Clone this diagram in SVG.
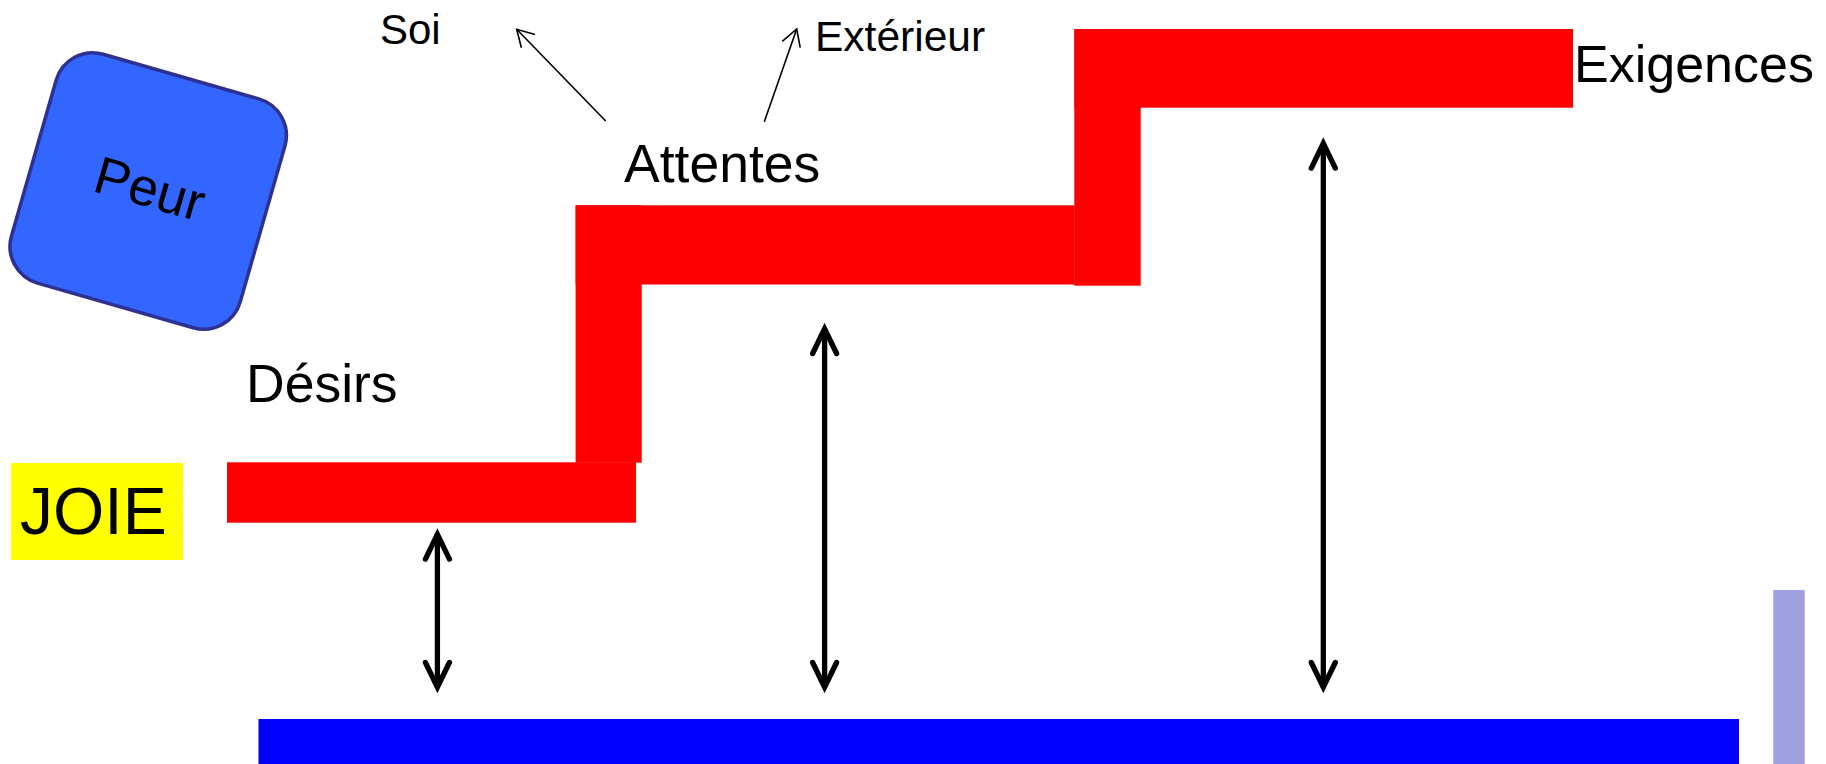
<svg xmlns="http://www.w3.org/2000/svg" width="1826" height="764" viewBox="0 0 1826 764">
  <style>
    .lbl { font-family: "Liberation Sans", Arial, sans-serif; fill: #000000; }
    .step { fill: #FF0000; }
    .dbl { fill: none; stroke: #000000; stroke-width: 5.3; }
    .thin { fill: none; stroke: #000000; stroke-width: 1.6; }
  </style>
  <defs>
    <!-- open V head for the thick double-headed gauges -->
    <marker id="headBig" markerUnits="userSpaceOnUse" orient="auto-start-reverse" refX="0" refY="0" markerWidth="40" markerHeight="40" viewBox="-30 -20 40 40" overflow="visible">
      <path d="M -24.7 -12 L 0 0 L -24.7 12" fill="none" stroke="#000000" stroke-width="5.3" stroke-linecap="round" stroke-linejoin="miter"/>
    </marker>
    <!-- small open V head for the thin pointers -->
    <marker id="headSmall" markerUnits="userSpaceOnUse" orient="auto" refX="0" refY="0" markerWidth="30" markerHeight="30" viewBox="-20 -15 30 30" overflow="visible">
      <path d="M -16.5 -9.5 L 0 0 L -16.5 9.5" fill="none" stroke="#000000" stroke-width="1.6" stroke-linejoin="miter"/>
    </marker>
  </defs>

  <rect width="1826" height="764" fill="#FFFFFF"/>

  <!-- red staircase -->
  <g id="steps">
    <rect class="step" x="227" y="462.3" width="409" height="60.4"/>
    <rect class="step" x="575.6" y="205.3" width="499" height="79.2"/>
    <rect class="step" x="575.6" y="205.3" width="66.1" height="257.4"/>
    <rect class="step" x="1074.3" y="29" width="498.7" height="78.7"/>
    <rect class="step" x="1074.3" y="29" width="66.4" height="256.7"/>
  </g>

  <!-- ground bar and side bar -->
  <g id="base">
    <rect x="258.5" y="719" width="1480.5" height="45" fill="#0000FF"/>
  </g>
  <g id="side-bar">
    <rect x="1773.3" y="590" width="31.4" height="174" fill="#A0A0DE"/>
  </g>

  <g id="peur" transform="translate(148.2 191) rotate(16)">
    <rect x="-119" y="-119" width="238" height="238" rx="38" ry="38" fill="#3366FF" stroke="#2E3092" stroke-width="3.5"/>
    <text class="lbl" x="1" y="15.6" font-size="53" text-anchor="middle">Peur</text>
  </g>

  <g id="joie">
    <rect x="11" y="463" width="172" height="97" fill="#FFFF00"/>
    <text class="lbl" x="20" y="534.3" font-size="66">JOIE</text>
  </g>

  <g id="desirs">
    <text class="lbl" x="246" y="401.7" font-size="53.5">Désirs</text>
  </g>

  <g id="attentes">
    <text class="lbl" x="624" y="181.5" font-size="53.5">Attentes</text>
  </g>

  <g id="exigences">
    <text class="lbl" x="1574" y="81.7" font-size="52">Exigences</text>
  </g>

  <g id="soi">
    <text class="lbl" x="380" y="44.3" font-size="42">Soi</text>
  </g>

  <g id="exterieur">
    <text class="lbl" x="815" y="51.2" font-size="42.5">Extérieur</text>
  </g>

  <g id="connectors">
    <!-- pointers from Attentes -->
    <line class="thin" x1="605.7" y1="121" x2="516.7" y2="29.3" marker-end="url(#headSmall)"/>
    <line class="thin" x1="764.3" y1="121.7" x2="796.7" y2="29" marker-end="url(#headSmall)"/>
    <!-- gauges between each step and the ground bar -->
    <path class="dbl" d="M 437.4 534.4 L 437.4 687.2" marker-start="url(#headBig)" marker-end="url(#headBig)"/>
    <path class="dbl" d="M 824.6 328.8 L 824.6 687.2" marker-start="url(#headBig)" marker-end="url(#headBig)"/>
    <path class="dbl" d="M 1323.3 143.4 L 1323.3 687.2" marker-start="url(#headBig)" marker-end="url(#headBig)"/>
  </g>
</svg>
